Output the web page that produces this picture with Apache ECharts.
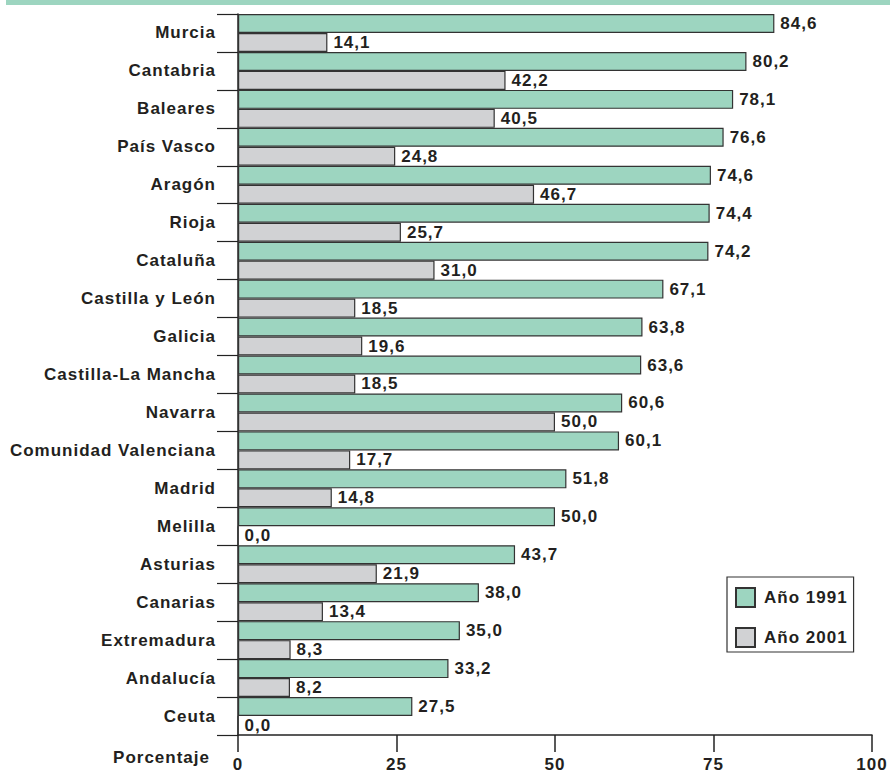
<!DOCTYPE html>
<html>
<head>
<meta charset="utf-8">
<script src="https://cdn.jsdelivr.net/npm/echarts@6/dist/echarts.min.js"></script>
<style>html,body{margin:0;padding:0;background:#fff}#c{width:890px;height:773px}#c svg text{letter-spacing:1px}</style>
</head>
<body>
<div id="c"></div>
<script>
const categories = ["Murcia","Cantabria","Baleares","País Vasco","Aragón","Rioja","Cataluña","Castilla y León","Galicia","Castilla-La Mancha","Navarra","Comunidad Valenciana","Madrid","Melilla","Asturias","Canarias","Extremadura","Andalucía","Ceuta"];
const values1991 = [84.6,80.2,78.1,76.6,74.6,74.4,74.2,67.1,63.8,63.6,60.6,60.1,51.8,50.0,43.7,38.0,35.0,33.2,27.5];
const values2001 = [14.1,42.2,40.5,24.8,46.7,25.7,31.0,18.5,19.6,18.5,50.0,17.7,14.8,0.0,21.9,13.4,8.3,8.2,0.0];
const xTicks = [0,25,50,75,100];

const FONT = '"Liberation Sans", Arial, Helvetica, sans-serif';
const TXT = '#231f20';
const chart = echarts.init(document.getElementById('c'), null, {renderer:'svg'});
const fmt = p => p.value.toFixed(1).replace('.', ',');
const lbl = {show:true, position:'right', distance:6, formatter:fmt, fontFamily:FONT, fontWeight:'bold', fontSize:17, color:TXT};
chart.setOption({
  animation:false,
  grid:{left:238, right:18, top:14, bottom:35, containLabel:false},
  legend:{
    orient:'vertical', left:727, top:577,
    padding:[10,14,4,8], itemGap:19, itemWidth:19, itemHeight:19,
    borderColor:'#333', borderWidth:1.2, borderRadius:0,
    icon:'rect',
    textStyle:{fontFamily:FONT, fontWeight:'bold', fontSize:17, color:TXT, padding:[0,0,0,4]},
    data:['Año 1991','Año 2001']
  },
  xAxis:{
    type:'value', min:0, max:100, interval:25,
    axisLine:{show:true, lineStyle:{color:'#222', width:1.5}},
    axisTick:{show:true, length:17, lineStyle:{color:'#222', width:1.5}},
    splitLine:{show:false},
    axisLabel:{margin:21, fontFamily:FONT, fontWeight:'bold', fontSize:17, color:TXT,
      formatter:v => xTicks.includes(v) ? String(v) : ''}
  },
  yAxis:{
    type:'category', data:categories, inverse:true,
    axisLine:{show:true, lineStyle:{color:'#222', width:1.5}},
    axisTick:{show:true, length:21, lineStyle:{color:'#222', width:1.2}},
    axisLabel:{margin:22, fontFamily:FONT, fontWeight:'bold', fontSize:17, color:TXT}
  },
  series:[
    {name:'Año 1991', type:'bar', data:values1991, barGap:'0%', barCategoryGap:'0%',
     itemStyle:{color:'#9dd5c0', borderColor:'#333', borderWidth:1.2}, label:lbl},
    {name:'Año 2001', type:'bar', data:values2001,
     itemStyle:{color:'#d1d2d4', borderColor:'#333', borderWidth:1.2}, label:lbl}
  ],
  graphic:[
    {type:'rect', left:6, top:0, shape:{width:884, height:5}, style:{fill:'#9dd5c0'}, silent:true},
    {type:'text', x:210, y:757, style:{text:'Porcentaje', fill:TXT, font:'bold 17px '+FONT, textAlign:'right', textVerticalAlign:'middle'}}
  ]
});
</script>
</body>
</html>
